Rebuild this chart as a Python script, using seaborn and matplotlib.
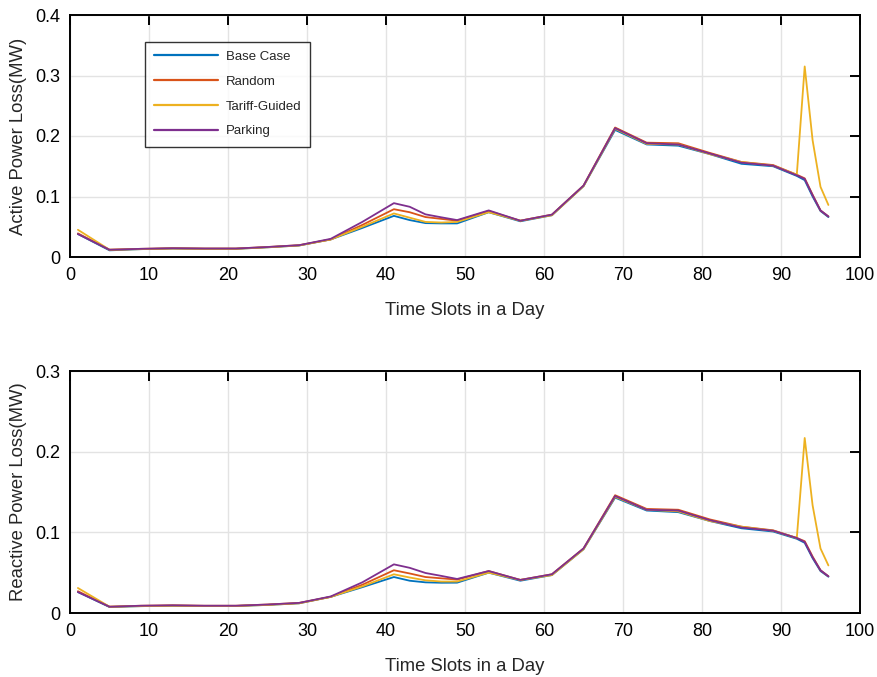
import matplotlib
matplotlib.use("Agg")
import matplotlib.pyplot as plt
import seaborn as sns
import pandas as pd

# ---- data ----
slots = [1, 5, 9, 13, 17, 21, 25, 29, 33, 37, 41, 43, 45, 47, 49, 53, 57, 61,
         65, 69, 73, 77, 81, 85, 89, 92, 93, 94, 95, 96]

series_names = ["Base Case", "Random", "Tariff-Guided", "Parking"]
colors = ["#0072BD", "#D95319", "#EDB120", "#7E2F8E"]

active_base = [.038, .011, .013, .014, .0135, .0135, .016, .019, .029, .048, .068, .061, .056, .0555, .0555,
               .074, .059, .069, .117, .210, .186, .184, .170, .154, .150, .134, .127, .100, .076, .066]
active_random = [.039, .012, .0135, .0145, .014, .014, .0165, .0195, .029, .053, .079, .074, .066, .063, .060,
                 .076, .060, .070, .118, .214, .189, .188, .172, .157, .152, .136, .130, .103, .077, .067]
active_tariff = [.045, .012, .013, .014, .0135, .0135, .016, .019, .029, .050, .072, .065, .058, .057, .058,
                 .074, .060, .069, .117, .212, .187, .186, .170, .157, .151, .136, .315, .193, .116, .086]
active_parking = [.038, .012, .0135, .0145, .014, .014, .0165, .0195, .030, .058, .089, .083, .0705, .0656, .061,
                  .077, .060, .070, .118, .213, .188, .186, .171, .156, .151, .135, .129, .102, .077, .067]

reactive_base = [.026, .0074, .0085, .009, .0087, .0087, .010, .012, .020, .032, .0446, .040, .038, .0375, .0376,
                 .050, .040, .047, .079, .143, .127, .125, .114, .105, .101, .092, .087, .068, .052, .045]
reactive_random = [.027, .0078, .009, .0095, .009, .009, .0105, .0125, .020, .035, .053, .049, .0446, .043, .0414,
                   .052, .041, .048, .080, .146, .129, .128, .116, .107, .1025, .093, .089, .070, .053, .0455]
reactive_tariff = [.031, .0078, .0085, .009, .0087, .0087, .010, .012, .020, .033, .048, .044, .0405, .039, .039,
                   .050, .041, .047, .079, .144, .128, .126, .114, .107, .102, .093, .217, .1335, .080, .059]
reactive_parking = [.026, .0078, .009, .0095, .009, .009, .0105, .0125, .0205, .038, .0603, .056, .0496, .046, .0422,
                    .052, .041, .048, .080, .145, .128, .127, .115, .106, .102, .093, .088, .069, .053, .0455]

x_ticks = [0, 10, 20, 30, 40, 50, 60, 70, 80, 90, 100]
active_yticks = [0, 0.1, 0.2, 0.3, 0.4]
active_ylabels = ["0", "0.1", "0.2", "0.3", "0.4"]
reactive_yticks = [0, 0.1, 0.2, 0.3]
reactive_ylabels = ["0", "0.1", "0.2", "0.3"]

xlabel = "Time Slots in a Day"
active_ylabel = "Active Power Loss(MW)"
reactive_ylabel = "Reactive Power Loss(MW)"


def long_df(values_list):
    rows = []
    for name, vals in zip(series_names, values_list):
        for s, v in zip(slots, vals):
            rows.append({"slot": s, "loss": v, "series": name})
    return pd.DataFrame(rows)


df_active = long_df([active_base, active_random, active_tariff, active_parking])
df_reactive = long_df([reactive_base, reactive_random, reactive_tariff, reactive_parking])

sns.set_theme(style="white")
plt.rcParams["font.family"] = ["Liberation Sans", "DejaVu Sans"]

fig = plt.figure(figsize=(8.78, 6.77), dpi=100)
ax1 = fig.add_axes([70 / 878, 1 - 257 / 677, 790 / 878, 242 / 677])
ax2 = fig.add_axes([70 / 878, 1 - 613 / 677, 790 / 878, 242 / 677])

palette = dict(zip(series_names, colors))


def style(ax, yticks, ylabels, ylab, ymax):
    ax.set_xlim(0, 100)
    ax.set_ylim(0, ymax)
    ax.set_xticks(x_ticks)
    ax.set_xticklabels([str(t) for t in x_ticks])
    ax.set_yticks(yticks)
    ax.set_yticklabels(ylabels)
    ax.grid(True, color="#e3e3e3", linewidth=1.0)
    ax.set_axisbelow(True)
    for sp in ax.spines.values():
        sp.set_visible(True)
        sp.set_color("black")
        sp.set_linewidth(1.4)
    ax.tick_params(direction="in", length=7, width=1.4, top=True, right=True,
                   labelsize=13, colors="black", pad=7)
    ax.set_xlabel(xlabel, fontsize=13.3, color="#262626", labelpad=13)
    ax.set_ylabel(ylab, fontsize=13.3, color="#262626", labelpad=6)


sns.lineplot(data=df_active, x="slot", y="loss", hue="series", hue_order=series_names,
             palette=palette, linewidth=1.3, ax=ax1, legend=True)
sns.lineplot(data=df_reactive, x="slot", y="loss", hue="series", hue_order=series_names,
             palette=palette, linewidth=1.3, ax=ax2, legend=False)

style(ax1, active_yticks, active_ylabels, active_ylabel, 0.4)
style(ax2, reactive_yticks, reactive_ylabels, reactive_ylabel, 0.3)

handles, labels = ax1.get_legend_handles_labels()
leg = ax1.legend(handles, labels, loc="upper left", bbox_to_anchor=(0.095, 0.89),
                 fontsize=9.5, frameon=True, fancybox=False, edgecolor="black",
                 handlelength=4.8, handletextpad=0.6, labelspacing=0.95,
                 borderpad=0.7, borderaxespad=0)
leg.get_frame().set_linewidth(1.0)
for h in leg.get_lines():
    h.set_linewidth(1.6)

fig.savefig("out.png", dpi=100)
